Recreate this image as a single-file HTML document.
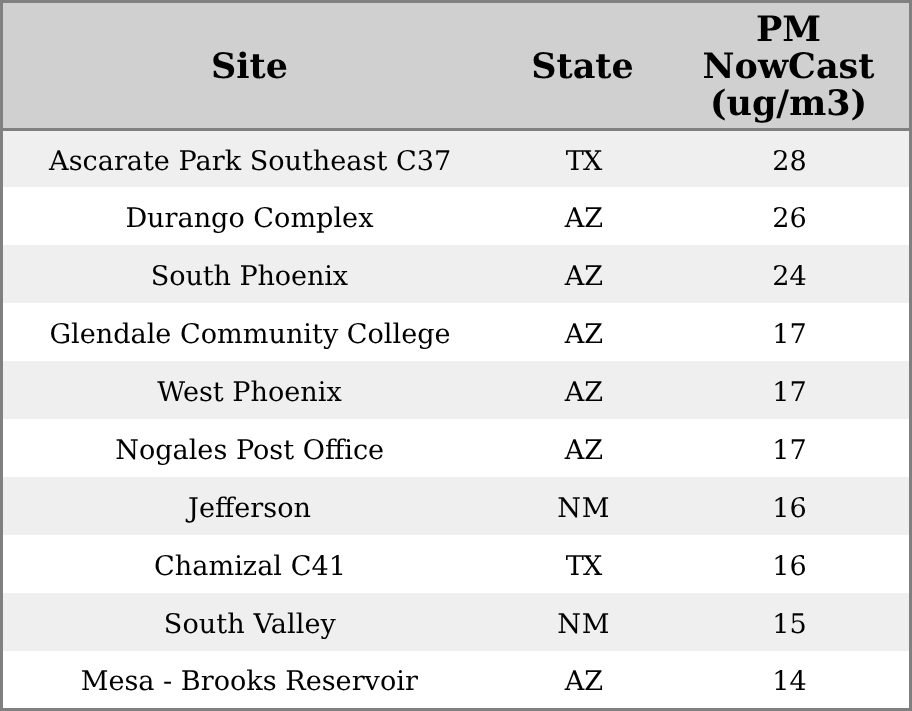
<!DOCTYPE html>
<html lang="en"><head><meta charset="utf-8"><title>PM NowCast by site</title>
<style>
html,body{margin:0;padding:0;background:#fff;}
body{width:912px;height:711px;overflow:hidden;font-family:"DejaVu Serif","Liberation Serif",serif;color:#000;text-rendering:geometricPrecision;}
table{width:912px;height:711px;box-sizing:border-box;border:3px solid #808080;border-collapse:separate;border-spacing:0;table-layout:fixed;}
th,td{padding:0;margin:0;text-align:center;white-space:nowrap;overflow:visible;vertical-align:top;}
th{height:125px;background:#d0d0d0;border-bottom:3px solid #808080;font-weight:bold;font-size:35px;line-height:37px;}
td{font-size:27.1px;line-height:40px;}
tr.o td{background:#efefef;}
th span,td span{position:relative;display:block;}
</style></head><body>
<table>
<colgroup><col style="width:495px"><col style="width:172px"><col style="width:239px"></colgroup>
<thead><tr>
<th><span style="top:45px;left:-1px;">Site</span></th>
<th><span style="top:45px;left:-1.5px;">State</span></th>
<th><span style="top:8px;left:-1px;">PM<br>NowCast<br>(ug/m3)</span></th>
</tr></thead>
<tbody>
<tr class="o" style="height:56px;"><td><span style="top:10.5px;left:-0.4px;">Ascarate Park Southeast C37</span></td><td><span style="top:10.5px;left:-0.4px;letter-spacing:-0.8px;">TX</span></td><td><span style="top:10.5px;">28</span></td></tr>
<tr style="height:58px;"><td><span style="top:11.5px;left:-1.1px;">Durango Complex</span></td><td><span style="top:11.5px;">AZ</span></td><td><span style="top:11.5px;">26</span></td></tr>
<tr class="o" style="height:58px;"><td><span style="top:11.5px;left:-1.1px;letter-spacing:-0.12px;">South Phoenix</span></td><td><span style="top:11.5px;">AZ</span></td><td><span style="top:11.5px;">24</span></td></tr>
<tr style="height:58px;"><td><span style="top:11.5px;left:-0.5px;">Glendale Community College</span></td><td><span style="top:11.5px;">AZ</span></td><td><span style="top:11.5px;">17</span></td></tr>
<tr class="o" style="height:58px;"><td><span style="top:11.5px;left:-1px;">West Phoenix</span></td><td><span style="top:11.5px;">AZ</span></td><td><span style="top:11.5px;">17</span></td></tr>
<tr style="height:58px;"><td><span style="top:11.5px;left:-0.85px;">Nogales Post Office</span></td><td><span style="top:11.5px;">AZ</span></td><td><span style="top:11.5px;">17</span></td></tr>
<tr class="o" style="height:58px;"><td><span style="top:11.5px;left:-1px;">Jefferson</span></td><td><span style="top:11.5px;left:-0.3px;letter-spacing:0.8px;">NM</span></td><td><span style="top:11.5px;">16</span></td></tr>
<tr style="height:58px;"><td><span style="top:11.5px;left:-0.5px;letter-spacing:0.03px;">Chamizal C41</span></td><td><span style="top:11.5px;left:-0.4px;letter-spacing:-0.8px;">TX</span></td><td><span style="top:11.5px;">16</span></td></tr>
<tr class="o" style="height:58px;"><td><span style="top:11.5px;left:-0.6px;letter-spacing:0.09px;">South Valley</span></td><td><span style="top:11.5px;left:-0.3px;letter-spacing:0.8px;">NM</span></td><td><span style="top:11.5px;">15</span></td></tr>
<tr style="height:57px;"><td><span style="top:10.5px;left:-1.25px;">Mesa - Brooks Reservoir</span></td><td><span style="top:10.5px;">AZ</span></td><td><span style="top:10.5px;">14</span></td></tr>
</tbody>
</table>
</body></html>
